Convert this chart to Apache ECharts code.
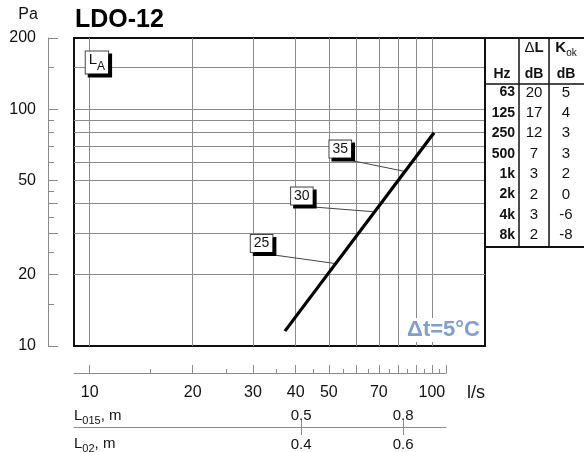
<!DOCTYPE html>
<html><head><meta charset="utf-8">
<script src="https://cdn.jsdelivr.net/npm/echarts@6.0.0/dist/echarts.min.js"></script>
<style>html,body{margin:0;padding:0;background:#fff}#c{width:584px;height:452px}</style>
</head><body><div id="c"></div>
<script>
// ---- data ----
const flowTicksMajor = [10,20,30,40,50,60,70,80,90,100,110];
const flowTicksMinor = [15,25,35,45,55,65,75,85,95,105];
const flowTickLabels = [10,20,30,40,50,70,100];
const flowGrid = [10,20,30,40,50,60,70,80,90,100];
const paTicksMajor = [10,20,30,40,50,100,200];
const paTicksMinor = [15,25,35,45,60,70,80,90,150];
const paTickLabels = [10,20,50,100,200];
const paGrid = [20,30,40,50,60,70,80,90,100,150];
const curveFlow = [37.2, 101.5];
const curvePa = [11.56, 79.6];
const noiseLevels = ['35','30','25'];
const noiseFlow = [83.5, 67.7, 52.2];
const noisePa = [54.6, 36.9, 22.3];
const throwFlow = [41.5, 82.4];
const throwL015 = ['0.5','0.8'];
const throwL02 = ['0.4','0.6'];
const bandHz = ['63','125','250','500','1k','2k','4k','8k'];
const deltaL = [20,17,12,7,3,2,3,2];
const kOk = [5,4,3,3,2,0,-6,-8];

// ---- layout (annotation placement in data space) ----
const noteBox = [[54.0,67.9],[41.7,43.0],[31.8,27.1]];
const noteLeadStart = [[58.7,60.6],[45.6,38.6],[34.8,24.2]];
const laBox = [10.5,157.6];

const FONT = 'Liberation Sans, Arial, Helvetica, sans-serif';
const GRAY = '#8a8a8a';
const chart = echarts.init(document.getElementById('c'));

function flowAxis(grid, min, max, extra){
  return Object.assign({type:'log', logBase:10, gridIndex:grid, min:min, max:max,
    axisLine:{show:false}, axisTick:{show:false}, axisLabel:{show:false},
    splitLine:{show:false}, minorTick:{show:false}, minorSplitLine:{show:false}}, extra);
}
function paAxis(extra){
  return Object.assign({type:'log', logBase:10, gridIndex:0, min:10, max:200, position:'left',
    axisLine:{show:false}, axisTick:{show:false}, axisLabel:{show:false},
    splitLine:{show:false}}, extra);
}

const curve = curveFlow.map((f,i)=>[f, curvePa[i]]);

// table graphics
const tblX0 = 485, tblX1 = 519, tblX2 = 549, tblX3 = 590, tblTop = 38, tblBot = 247, tblHead = 84;
const tableEls = [
  {type:'rect', shape:{x:tblX0, y:tblTop, width:tblX3-tblX0, height:tblBot-tblTop},
   style:{fill:'#fff', stroke:'#111', lineWidth:2}, z:10},
  {type:'line', shape:{x1:tblX1,y1:tblTop,x2:tblX1,y2:tblBot}, style:{stroke:'#111',lineWidth:1.5}, z:11},
  {type:'line', shape:{x1:tblX2,y1:tblTop,x2:tblX2,y2:tblBot}, style:{stroke:'#111',lineWidth:1.5}, z:11},
  {type:'line', shape:{x1:tblX0,y1:tblHead,x2:tblX3,y2:tblHead}, style:{stroke:'#111',lineWidth:1.5}, z:11},
  {type:'text', z:12, style:{text:'{d|Δ}{l|L}', x:534, y:48, align:'center', verticalAlign:'middle',
    rich:{d:{fontSize:15, fontFamily:FONT, fill:'#111'}, l:{fontSize:15, fontWeight:'bold', fontFamily:FONT, fill:'#111'}}}},
  {type:'text', z:12, style:{text:'{k|K}{s|ok}', x:566, y:49, align:'center', verticalAlign:'middle',
    rich:{k:{fontSize:15, fontWeight:'bold', fontFamily:FONT, fill:'#111', lineHeight:18, verticalAlign:'top'},
          s:{fontSize:10, fontFamily:FONT, fill:'#111', verticalAlign:'bottom'}}}},
  {type:'text', z:12, style:{text:'Hz', x:502, y:74, align:'center', verticalAlign:'middle', font:'bold 14px '+FONT, fill:'#111'}},
  {type:'text', z:12, style:{text:'dB', x:534, y:74, align:'center', verticalAlign:'middle', font:'bold 14px '+FONT, fill:'#111'}},
  {type:'text', z:12, style:{text:'dB', x:566, y:74, align:'center', verticalAlign:'middle', font:'bold 14px '+FONT, fill:'#111'}}
];
bandHz.forEach((h,i)=>{
  const y = 92.5 + i*20.4;
  tableEls.push({type:'text', z:12, style:{text:h, x:515, y:y, align:'right', verticalAlign:'middle', font:'bold 14px '+FONT, fill:'#111'}});
  tableEls.push({type:'text', z:12, style:{text:String(deltaL[i]), x:534, y:y, align:'center', verticalAlign:'middle', font:'15px '+FONT, fill:'#111'}});
  tableEls.push({type:'text', z:12, style:{text:String(kOk[i]), x:566, y:y, align:'center', verticalAlign:'middle', font:'15px '+FONT, fill:'#111'}});
});

const boxLabel = {backgroundColor:'#fff', borderColor:'#444', borderWidth:1, opacity:1,
  shadowColor:'#000', shadowOffsetX:3, shadowOffsetY:3, shadowBlur:0};

const option = {
  animation:false,
  backgroundColor:'#fff',
  textStyle:{fontFamily:FONT},
  grid:[
    {left:74, top:38, width:411, height:308, show:true, borderColor:'#111', borderWidth:2, backgroundColor:'transparent', containLabel:false},
    {left:74, top:363, width:372, height:10, containLabel:false},
    {left:74, top:418, width:372, height:10, containLabel:false}
  ],
  xAxis:[
    flowAxis(0, 9, 143, {}),
    flowAxis(0, 9, 143, {position:'bottom',
      axisTick:{show:true, inside:true, length:308, customValues:flowGrid, lineStyle:{color:GRAY, width:1}}}),
    flowAxis(1, 9, 110, {position:'bottom',
      axisLine:{show:true, lineStyle:{color:GRAY, width:1}},
      axisTick:{show:true, inside:true, length:8, customValues:flowTicksMajor, lineStyle:{color:GRAY, width:1}},
      axisLabel:{show:true, customValues:flowTickLabels, margin:12, fontSize:16, color:'#111', fontFamily:FONT}}),
    flowAxis(1, 9, 110, {position:'bottom',
      axisTick:{show:true, inside:true, length:4, customValues:flowTicksMinor, lineStyle:{color:GRAY, width:1}}}),
    flowAxis(2, 9, 110, {position:'bottom',
      axisLine:{show:true, lineStyle:{color:GRAY, width:1}},
      axisTick:{show:true, inside:true, length:7, customValues:throwFlow, lineStyle:{color:GRAY, width:1}},
      axisLabel:{show:true, inside:true, customValues:throwFlow, margin:4, fontSize:15, color:'#111', fontFamily:FONT,
        formatter:(v)=>{let b=0; throwFlow.forEach((f,i)=>{if(Math.abs(f-v)<Math.abs(throwFlow[b]-v)) b=i;}); return throwL015[b];}}}),
    flowAxis(2, 9, 110, {position:'bottom',
      axisTick:{show:true, inside:false, length:8, customValues:throwFlow, lineStyle:{color:GRAY, width:1}},
      axisLabel:{show:true, customValues:throwFlow, margin:10, fontSize:15, color:'#111', fontFamily:FONT,
        formatter:(v)=>{let b=0; throwFlow.forEach((f,i)=>{if(Math.abs(f-v)<Math.abs(throwFlow[b]-v)) b=i;}); return throwL02[b];}}})
  ],
  yAxis:[
    paAxis({offset:26,
      axisLine:{show:true, lineStyle:{color:GRAY, width:1}},
      axisTick:{show:true, inside:true, length:10, customValues:paTicksMajor, lineStyle:{color:GRAY, width:1}},
      axisLabel:{show:true, customValues:paTickLabels, margin:12, fontSize:16, color:'#111', fontFamily:FONT}}),
    paAxis({offset:26,
      axisTick:{show:true, inside:true, length:6, customValues:paTicksMinor, lineStyle:{color:GRAY, width:1}}}),
    paAxis({offset:0,
      axisTick:{show:true, inside:true, length:411, customValues:paGrid, lineStyle:{color:GRAY, width:1}}}),
    {type:'value', gridIndex:1, show:false},
    {type:'value', gridIndex:2, show:false}
  ],
  series:[
    {type:'line', name:'curve', xAxisIndex:0, yAxisIndex:0, data:curve, symbol:'none', z:5,
     lineStyle:{color:'#000', width:3.2}, silent:true},
    {type:'lines', name:'leaders', coordinateSystem:'cartesian2d', xAxisIndex:0, yAxisIndex:0, z:4, silent:true,
     lineStyle:{color:'#444', width:1, opacity:1},
     data: noiseLevels.map((n,i)=>({coords:[noteLeadStart[i], [noiseFlow[i], noisePa[i]]]}))},
    {type:'scatter', name:'notes', xAxisIndex:0, yAxisIndex:0, z:6, silent:true,
     symbolSize:1, itemStyle:{color:'rgba(0,0,0,0)', opacity:1},
     data: noiseLevels.map((n,i)=>({name:n, value:noteBox[i]})),
     label:Object.assign({show:true, position:'inside', formatter:'{b}', fontSize:14, color:'#111', fontFamily:FONT,
       padding:[2,3,1,3]}, boxLabel)},
    {type:'scatter', name:'LA', xAxisIndex:0, yAxisIndex:0, z:6, silent:true,
     symbolSize:1, itemStyle:{color:'rgba(0,0,0,0)', opacity:1},
     data:[{name:'LA', value:laBox}],
     label:Object.assign({show:true, position:'inside', formatter:'{l|L}{s|A}', padding:[1,3,1,3],
       rich:{l:{fontSize:15, color:'#111', fontFamily:FONT, lineHeight:20, verticalAlign:'top'},
             s:{fontSize:12, color:'#111', fontFamily:FONT, verticalAlign:'bottom', lineHeight:20}}}, boxLabel)}
  ],
  graphic:[
    {type:'text', z:20, style:{text:'LDO-12', x:75, y:20, verticalAlign:'middle', font:'bold 25px '+FONT, fill:'#000'}},
    {type:'text', z:20, style:{text:'Pa', x:28, y:15, align:'center', verticalAlign:'middle', font:'16px '+FONT, fill:'#111'}},
    {type:'text', z:20, style:{text:'l/s', x:467, y:393, verticalAlign:'middle', font:'18px '+FONT, fill:'#111'}},
    {type:'text', z:20, style:{text:'Δt=5°C', x:482, y:330, align:'right', verticalAlign:'middle',
      font:'bold 22px '+FONT, fill:'#7f9fd4', backgroundColor:'#fff', padding:[2,2,0,2]}},
    {type:'text', z:20, style:{text:'{l|L}{s|015}{l|, m}', x:74, y:417, verticalAlign:'middle',
      rich:{l:{fontSize:15, fontFamily:FONT, fill:'#111', lineHeight:18, verticalAlign:'top'},
            s:{fontSize:11, fontFamily:FONT, fill:'#111', lineHeight:18, verticalAlign:'bottom'}}}},
    {type:'text', z:20, style:{text:'{l|L}{s|02}{l|, m}', x:74, y:445, verticalAlign:'middle',
      rich:{l:{fontSize:15, fontFamily:FONT, fill:'#111', lineHeight:18, verticalAlign:'top'},
            s:{fontSize:11, fontFamily:FONT, fill:'#111', lineHeight:18, verticalAlign:'bottom'}}}}
  ].concat(tableEls)
};
chart.setOption(option);
</script>
</body></html>
